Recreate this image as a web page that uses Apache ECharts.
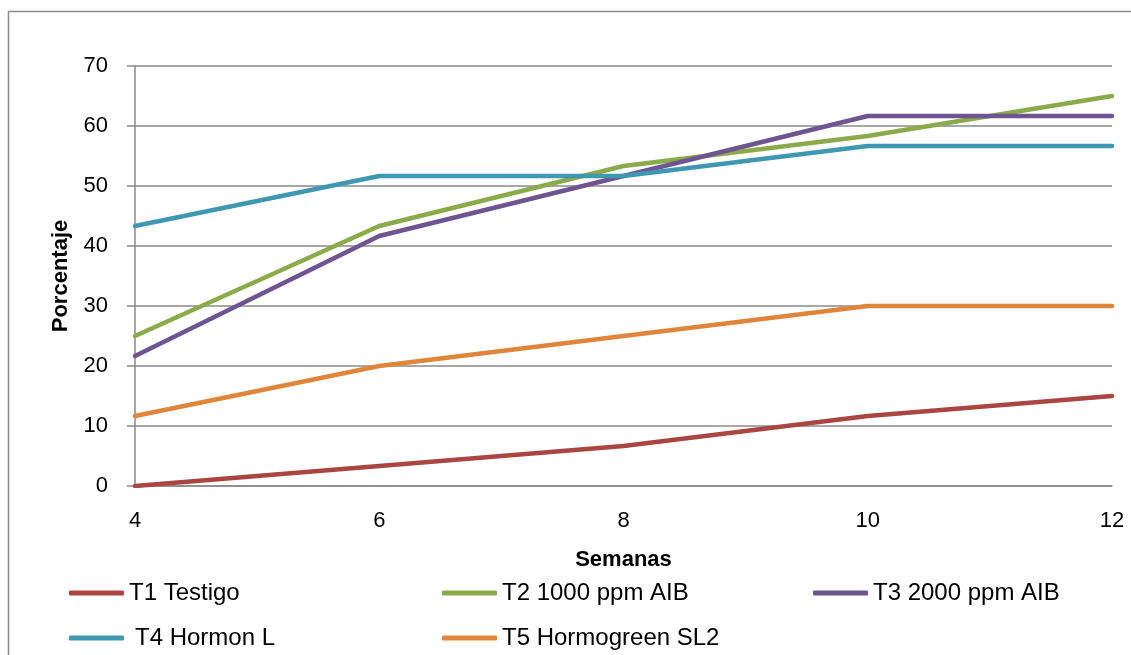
<!DOCTYPE html>
<html>
<head>
<meta charset="utf-8">
<script src="https://cdn.jsdelivr.net/npm/echarts@6/dist/echarts.min.js"></script>
<style>
html,body{margin:0;padding:0;background:#fff;}
#c{width:1131px;height:655px;}
</style>
</head>
<body>
<div id="c"></div>
<script>
const weeks = [4, 6, 8, 10, 12];
const seriesNames = ['T1 Testigo', 'T2 1000 ppm AIB', 'T3 2000 ppm AIB', 'T4 Hormon L', 'T5 Hormogreen SL2'];
const t1 = [0, 3.33, 6.67, 11.67, 15];
const t2 = [25, 43.33, 53.33, 58.33, 65];
const t3 = [21.67, 41.67, 51.67, 61.67, 61.67];
const t4 = [43.33, 51.67, 51.67, 56.67, 56.67];
const t5 = [11.67, 20, 25, 30, 30];
const colors = ['#AA4541', '#8BAA4A', '#6E5490', '#3F98B2', '#E0863B'];
const yTicks = [0, 10, 20, 30, 40, 50, 60, 70];

const values = [t1, t2, t3, t4, t5];
const FONT = '"Liberation Sans", Arial, sans-serif';

const chart = echarts.init(document.getElementById('c'), null, {renderer: 'canvas'});

function mkLegend(idx, left, top) {
  return {
    data: [seriesNames[idx]],
    left: left, top: top,
    itemWidth: 55, itemHeight: 5,
    icon: 'roundRect',
    itemGap: 0,
    padding: 0,
    textStyle: {fontFamily: FONT, fontSize: 24, color: '#000', padding: [0,0,0,idx===3?6:0]},
    selectedMode: false
  };
}

chart.setOption({
  animation: false,
  backgroundColor: '#fff',
  color: colors,
  graphic: [{
    type: 'rect', shape: {x: 8.5, y: 11.5, width: 1140, height: 660},
    style: {fill: 'none', stroke: '#8a8a8a', lineWidth: 1.5}, silent: true
  }],
  grid: {left: 135, right: 19, top: 66, bottom: 169, containLabel: false},
  legend: [
    mkLegend(0, 69, 581),
    mkLegend(1, 442, 581),
    mkLegend(2, 813, 581),
    mkLegend(3, 69, 626),
    mkLegend(4, 442, 626)
  ],
  xAxis: {
    type: 'value', min: 4, max: 12, interval: 2,
    name: 'Semanas', nameLocation: 'middle', nameGap: 63,
    nameTextStyle: {fontFamily: FONT, fontSize: 22, fontWeight: 'bold', color: '#000'},
    axisLine: {show: true, lineStyle: {color: '#8a8a8a', width: 1.5}},
    axisTick: {show: false},
    axisLabel: {fontFamily: FONT, fontSize: 22, color: '#000', margin: 24},
    splitLine: {show: false}
  },
  yAxis: {
    type: 'value', min: 0, max: 70, interval: 10,
    name: 'Porcentaje', nameLocation: 'middle', nameGap: 63, nameRotate: 90,
    nameTextStyle: {fontFamily: FONT, fontSize: 22, fontWeight: 'bold', color: '#000'},
    axisLine: {show: true, lineStyle: {color: '#8a8a8a', width: 1.5}},
    axisTick: {show: true, length: 8, lineStyle: {color: '#8a8a8a', width: 1.5}},
    axisLabel: {fontFamily: FONT, fontSize: 22, color: '#000', margin: 27,
      formatter: v => yTicks.includes(v) ? String(v) : ''},
    splitLine: {show: true, lineStyle: {color: '#8a8a8a', width: 1.5}}
  },
  series: values.map((vals, i) => ({
    name: seriesNames[i],
    type: 'line',
    data: weeks.map((w, j) => [w, vals[j]]),
    symbol: 'none',
    lineStyle: {width: 4.5, color: colors[i], cap: 'round', join: 'round'},
    itemStyle: {color: colors[i]},
    z: 2
  }))
});
</script>
</body>
</html>
